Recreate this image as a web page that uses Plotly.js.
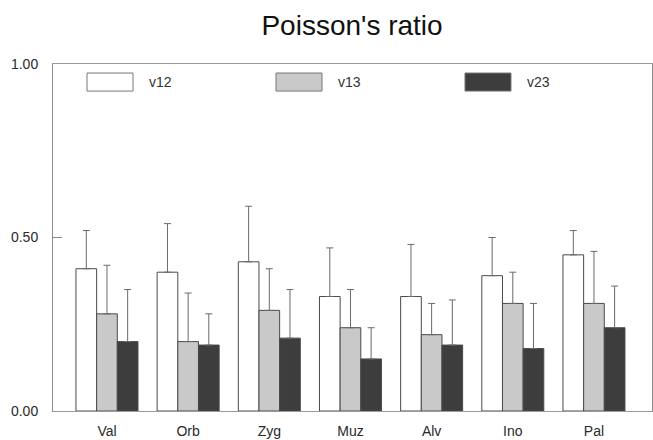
<!DOCTYPE html>
<html>
<head>
<meta charset="utf-8">
<script src="https://cdn.plot.ly/plotly-3.0.1.min.js"></script>
<style>html,body{margin:0;padding:0;background:#fff;}#chart{width:653px;height:440px;}</style>
</head>
<body>
<div id="chart"></div>
<script>
var categories = ["Val", "Orb", "Zyg", "Muz", "Alv", "Ino", "Pal"];
var seriesNames = ["v12", "v13", "v23"];
var v12 = [0.41, 0.40, 0.43, 0.33, 0.33, 0.39, 0.45];
var v13 = [0.28, 0.20, 0.29, 0.24, 0.22, 0.31, 0.31];
var v23 = [0.20, 0.19, 0.21, 0.15, 0.19, 0.18, 0.24];
var sd12 = [0.11, 0.14, 0.16, 0.14, 0.15, 0.11, 0.07];
var sd13 = [0.14, 0.14, 0.12, 0.11, 0.09, 0.09, 0.15];
var sd23 = [0.15, 0.09, 0.14, 0.09, 0.13, 0.13, 0.12];
var yTicks = [0, 0.5, 1.0];
var yTickText = ["0.00", "0.50", "1.00"];

var fills = ["#ffffff", "#c9c9c9", "#3d3d3d"];
var values = [v12, v13, v23];
var sds = [sd12, sd13, sd23];

var traces = seriesNames.map(function (name, i) {
  return {
    type: "bar",
    name: name,
    x: categories,
    y: values[i],
    marker: { color: fills[i], line: { color: "#4a4a4a", width: 1 } },
    error_y: {
      type: "data",
      symmetric: false,
      array: sds[i],
      arrayminus: sds[i].map(function () { return 0; }),
      color: "#6a6a6a",
      thickness: 1,
      width: 3.5
    },
    showlegend: false
  };
});

// custom legend (large swatches like the original)
var shapes = [];
var annotations = [];
var legX0 = 0.0568, legW = 0.0768, legStep = 0.3155, legY0 = 0.922, legY1 = 0.974;
seriesNames.forEach(function (name, i) {
  shapes.push({
    type: "rect", xref: "paper", yref: "paper",
    x0: legX0 + i * legStep, x1: legX0 + legW + i * legStep,
    y0: legY0, y1: legY1,
    fillcolor: fills[i], line: { color: "#777777", width: 1 }
  });
  annotations.push({
    xref: "paper", yref: "paper",
    x: legX0 + legW + 0.023 + i * legStep, y: (legY0 + legY1) / 2,
    xanchor: "left", yanchor: "middle", showarrow: false,
    text: name, font: { family: "Liberation Sans, Arial, sans-serif", size: 14, color: "#333333" }
  });
});

var layout = {
  width: 653, height: 440,
  margin: { l: 53, r: 1, t: 64, b: 29, pad: 0 },
  paper_bgcolor: "#ffffff", plot_bgcolor: "#ffffff",
  title: {
    text: "Poisson's ratio",
    font: { family: "Liberation Sans, Arial, sans-serif", size: 28, color: "#111111" },
    x: 0.5391, xanchor: "center", y: 0.942, yanchor: "middle"
  },
  barmode: "group", bargap: 0.236, bargroupgap: 0,
  xaxis: {
    type: "category",
    range: [-0.665, 6.715],
    showgrid: false, zeroline: false,
    showline: true, linecolor: "#9a9a9a", linewidth: 1, mirror: true,
    ticks: "", ticklabelstandoff: 7,
    tickfont: { family: "Liberation Sans, Arial, sans-serif", size: 14, color: "#2a2a2a" }
  },
  yaxis: {
    range: [0, 1],
    tickvals: yTicks, ticktext: yTickText,
    showgrid: false, zeroline: false,
    showline: true, linecolor: "#8a8a8a", linewidth: 1, mirror: true,
    ticks: "inside", ticklen: 9, tickcolor: "#8a8a8a",
    ticklabelstandoff: 11,
    tickfont: { family: "Liberation Sans, Arial, sans-serif", size: 14, color: "#2a2a2a" }
  },
  shapes: shapes,
  annotations: annotations
};

Plotly.newPlot("chart", traces, layout, { displayModeBar: false, staticPlot: true });
</script>
</body>
</html>
